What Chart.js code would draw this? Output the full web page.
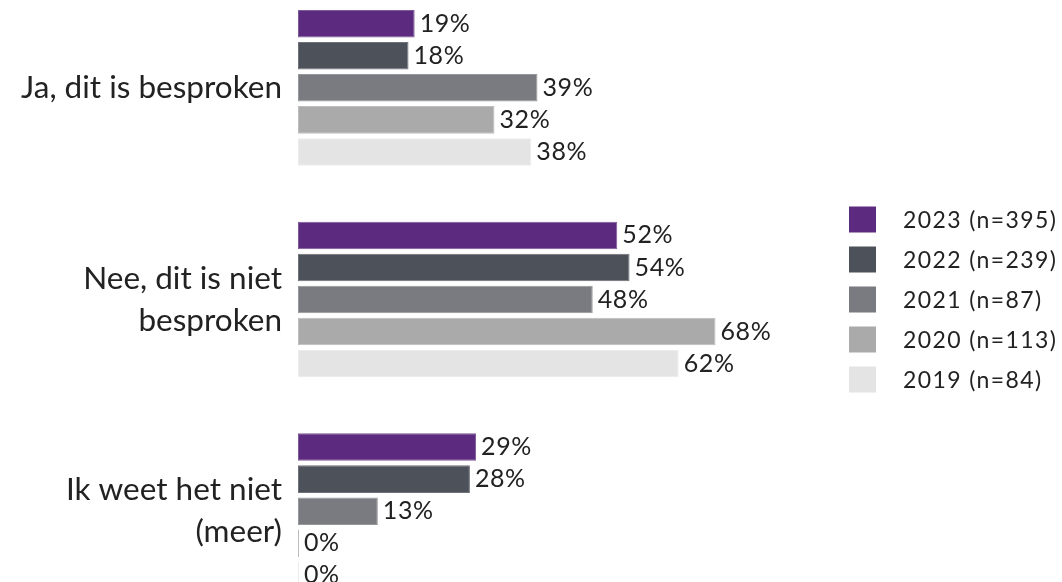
<!DOCTYPE html>
<html>
<head>
<meta charset="utf-8">
<script src="https://cdn.jsdelivr.net/npm/chart.js@4"></script>
<style>
  html, body { margin: 0; padding: 0; background: #fff; overflow: hidden; }
  #wrap { position: absolute; left: 0; top: -18px; width: 1062px; height: 635px; }
</style>
</head>
<body>
<div id="wrap"><canvas id="surveyChart"></canvas></div>
<script>
const categories = [
  "Ja, dit is besproken",
  ["Nee, dit is niet", "besproken"],
  ["Ik weet het niet", "(meer)"]
];

const seriesLabels = ["2023 (n=395)", "2022 (n=239)", "2021 (n=87)", "2020 (n=113)", "2019 (n=84)"];
const seriesColors = ["#5c2a7e", "#4d5159", "#7a7b80", "#aaaaaa", "#e4e4e4"];
const seriesBorders = ["#7e5a99", "#6f7278", "#96979b", "#bdbdbd", "#ececec"];

const values2023 = [19, 52, 29];
const values2022 = [18, 54, 28];
const values2021 = [39, 48, 13];
const values2020 = [32, 68, 0];
const values2019 = [38, 62, 0];

const allValues = [values2023, values2022, values2021, values2020, values2019];

const FONT = "Lato, 'Noto Sans', sans-serif";
const TEXT_COLOR = "#222222";

// value labels at the end of each bar
const barValuePlugin = {
  id: 'barValues',
  afterDatasetsDraw(chart) {
    const { ctx } = chart;
    ctx.save();
    ctx.font = "25px " + FONT;
    ctx.letterSpacing = "0.6px";
    ctx.fillStyle = TEXT_COLOR;
    ctx.textAlign = "left";
    ctx.textBaseline = "middle";
    chart.data.datasets.forEach((dataset, i) => {
      const meta = chart.getDatasetMeta(i);
      meta.data.forEach((bar, j) => {
        ctx.fillText(dataset.data[j] + "%", bar.x + 5, bar.y);
      });
    });
    ctx.restore();
  }
};

// legend on the right, centred on the chart area
const sideLegendPlugin = {
  id: 'sideLegend',
  afterDraw(chart) {
    const { ctx, chartArea } = chart;
    const midY = (chartArea.top + chartArea.bottom) / 2;
    const rowGap = 40;
    const boxX = 849;
    const textX = 903;
    const n = chart.data.datasets.length;
    ctx.save();
    ctx.font = "23px " + FONT;
    ctx.letterSpacing = "1.4px";
    ctx.textAlign = "left";
    ctx.textBaseline = "middle";
    chart.data.datasets.forEach((dataset, i) => {
      const cy = midY + (i - (n - 1) / 2) * rowGap;
      ctx.fillStyle = dataset.backgroundColor;
      ctx.fillRect(boxX, cy - 13, 27, 26);
      ctx.fillStyle = TEXT_COLOR;
      ctx.fillText(dataset.label, textX, cy + 1);
    });
    ctx.restore();
  }
};

const datasets = seriesLabels.map((label, i) => ({
  label: label,
  data: allValues[i],
  backgroundColor: seriesColors[i],
  borderColor: seriesBorders[i],
  borderWidth: 1,
  borderSkipped: false,
  minBarLength: 1,
  categoryPercentage: 0.757,
  barPercentage: 0.86,
}));

const ctx = document.getElementById("surveyChart").getContext("2d");
const surveyChart = new Chart(ctx, {
  type: "bar",
  data: { labels: categories, datasets: datasets },
  options: {
    indexAxis: "y",
    responsive: true,
    maintainAspectRatio: false,
    animation: false,
    layout: { padding: { top: 0, bottom: 0, left: 0, right: 150 } },
    scales: {
      x: {
        display: false,
        min: 0,
        max: 100,
      },
      y: {
        grid: { display: false, drawTicks: false },
        border: { display: false },
        afterFit(scale) {
          // fixed axis width; labels sit well inside the offset bands,
          // so no extra room above/below is needed
          scale.width = 298;
          scale.paddingTop = 0;
          scale.paddingBottom = 0;
        },
        ticks: {
          padding: 16,
          color: TEXT_COLOR,
          font: { family: FONT, size: 31.5, lineHeight: 1.33 },
        },
      },
    },
    plugins: {
      legend: { display: false },
      tooltip: { enabled: false },
    },
  },
  plugins: [barValuePlugin, sideLegendPlugin],
});
</script>
</body>
</html>
